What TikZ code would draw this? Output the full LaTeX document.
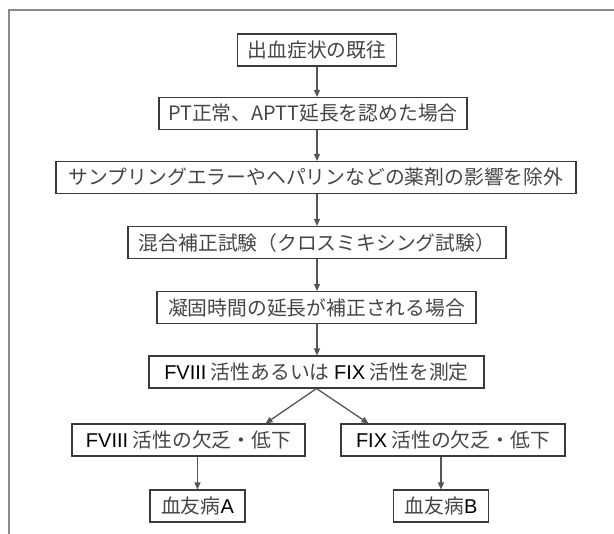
\documentclass[tikz,border=0pt]{standalone}
\usepackage{fontspec}
\newfontfamily\jpf{Noto Sans CJK JP}
\newfontfamily\latf{Liberation Sans}
\usetikzlibrary{arrows.meta}
\definecolor{framegray}{HTML}{8A8A8A}
\definecolor{boxline}{HTML}{3A3A3A}
\definecolor{arrowgray}{HTML}{555555}
\definecolor{textgray}{HTML}{454545}
\newcommand{\Lt}[1]{{\latf\fontsize{20}{22}\selectfont\color{black}#1}}
\begin{document}
\begin{tikzpicture}[x=1pt,y=-1pt,
  flowbox/.style={draw=boxline, line width=1.1pt, minimum height=32pt,
    inner xsep=8pt, inner ysep=0pt, text=textgray,
    font=\jpf\fontsize{19.8}{22}\selectfont},
  flowarrow/.style={draw=arrowgray, line width=1.3pt,
    -{Triangle[length=7pt,width=6pt]}}]
\useasboundingbox (0,0) rectangle (614,534);
\draw[framegray, line width=2pt] (8.5,534) -- (8.5,10.5) -- (614,10.5);

\node[flowbox, minimum width=159pt] (b1) at (317,50) {出血症状の既往};
\node[flowbox, minimum width=308pt] (b2) at (313,113.5) {PT正常、APTT延長を認めた場合};
\node[flowbox, minimum width=520pt] (b3) at (316,177.5) {サンプリングエラーやヘパリンなどの薬剤の影響を除外};
\node[flowbox, minimum width=378pt] (b4) at (317,242.5) {混合補正試験（クロスミキシング試験）};
\node[flowbox, minimum width=319pt] (b5) at (316.5,307.5) {凝固時間の延長が補正される場合};
\node[flowbox, minimum width=335pt] (b6) at (316.5,372) {\Lt{FVIII} 活性あるいは \Lt{FIX} 活性を測定};
\node[flowbox, minimum width=233pt] (b7l) at (188.5,440) {\Lt{FVIII} 活性の欠乏・低下};
\node[flowbox, minimum width=224pt] (b7r) at (453,440) {\Lt{FIX} 活性の欠乏・低下};
\node[flowbox, minimum width=95pt] (b8l) at (197.5,506) {血友病\Lt{A}};
\node[flowbox, minimum width=95pt] (b8r) at (441,506) {血友病\Lt{B}};

\draw[flowarrow] (b1.south) -- (b1.south |- b2.north);
\draw[flowarrow] (b1.south |- b2.south) -- (b1.south |- b3.north);
\draw[flowarrow] (b1.south |- b3.south) -- (b1.south |- b4.north);
\draw[flowarrow] (b1.south |- b4.south) -- (b1.south |- b5.north);
\draw[flowarrow] (b1.south |- b5.south) -- (b1.south |- b6.north);
\draw[flowarrow] (b6.south) -- ([xshift=-40pt]b7l.north east);
\draw[flowarrow] (b6.south) -- ([xshift=28pt]b7r.north west);
\draw[flowarrow] (b8l.north |- b7l.south) -- (b8l.north);
\draw[flowarrow] (b8r.north |- b7r.south) -- (b8r.north);
\end{tikzpicture}
\end{document}
